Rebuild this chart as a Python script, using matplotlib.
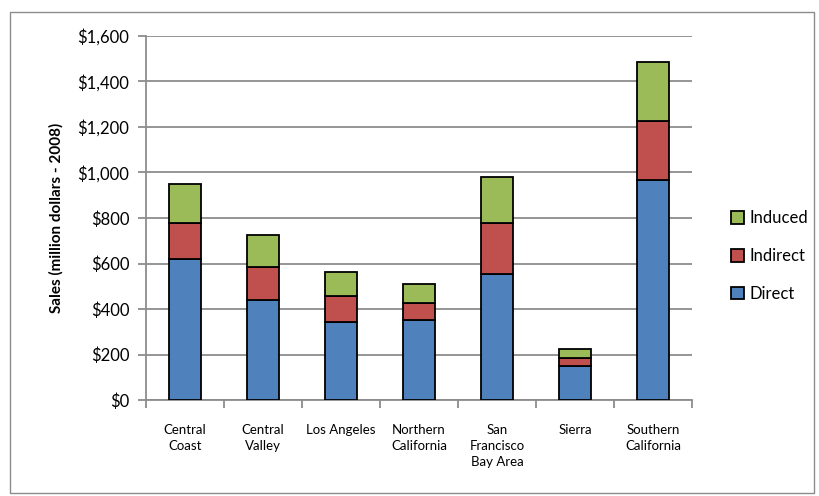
import matplotlib.pyplot as plt
import matplotlib.patches as patches
import numpy as np

# Data.
regions = ["Central\nCoast", "Central\nValley", "Los Angeles", "Northern\nCalifornia",
           "San\nFrancisco\nBay Area", "Sierra", "Southern\nCalifornia"]
direct = [621, 441, 344, 350, 554, 149, 966]
indirect = [157, 142, 113, 75, 224, 37, 260]
induced = [171, 144, 104, 85, 202, 40, 261]
y_ticks = [0, 200, 400, 600, 800, 1000, 1200, 1400, 1600]

plt.rcParams['font.family'] = ['Lato', 'DejaVu Sans']

fig = plt.figure(figsize=(8.2, 4.96), dpi=100)
ax = fig.add_axes([146 / 820, 96 / 496, 546 / 820, 364 / 496])

# Outer chart border.
fig.patches.append(patches.Rectangle((10 / 820, 3 / 496), 804 / 820, 481 / 496,
                                     transform=fig.transFigure, fill=False,
                                     edgecolor='#8c8c8c', linewidth=1.0))

x = np.arange(len(regions))
w = 0.4
edge = dict(edgecolor='black', linewidth=1.3, zorder=3)
ax.bar(x, direct, w, color='#4F81BD', label='Direct', **edge)
ax.bar(x, indirect, w, bottom=direct, color='#C0504D', label='Indirect', **edge)
bottom2 = np.array(direct) + np.array(indirect)
ax.bar(x, induced, w, bottom=bottom2, color='#9BBB59', label='Induced', **edge)

ax.set_xlim(-0.5, len(regions) - 0.5)
ax.set_ylim(0, 1600)
ax.set_yticks(y_ticks)
ax.set_yticklabels(['${:,}'.format(v) for v in y_ticks], fontsize=12)
ax.yaxis.grid(True, color='#8c8c8c', linewidth=1.3, zorder=0)
ax.set_axisbelow(True)

ax.set_xticks(x)
ax.set_xticklabels(regions, fontsize=9.5, linespacing=1.4, va='top')
ax.tick_params(axis='x', which='major', length=0, pad=17)
ax.set_xticks(np.arange(-0.5, len(regions)), minor=True)
ax.tick_params(axis='x', which='minor', length=6, width=1.3, color='#8c8c8c', direction='out')
ax.tick_params(axis='y', length=6, width=1.3, color='#8c8c8c', pad=6)

for s in ['top', 'right']:
    ax.spines[s].set_visible(False)
for s in ['left', 'bottom']:
    ax.spines[s].set_color('#8c8c8c')
    ax.spines[s].set_linewidth(1.3)

ax.set_ylabel('Sales (million dollars - 2008)', fontsize=11, fontweight='bold', labelpad=10)

handles, labels = ax.get_legend_handles_labels()
leg = fig.legend(handles[::-1], labels[::-1], loc='center left',
                 bbox_to_anchor=(716 / 820, 240 / 496), frameon=False,
                 fontsize=12, handlelength=0.8, handleheight=0.8,
                 handletextpad=0.3, labelspacing=1.3)

fig.savefig('out.png', dpi=100)
